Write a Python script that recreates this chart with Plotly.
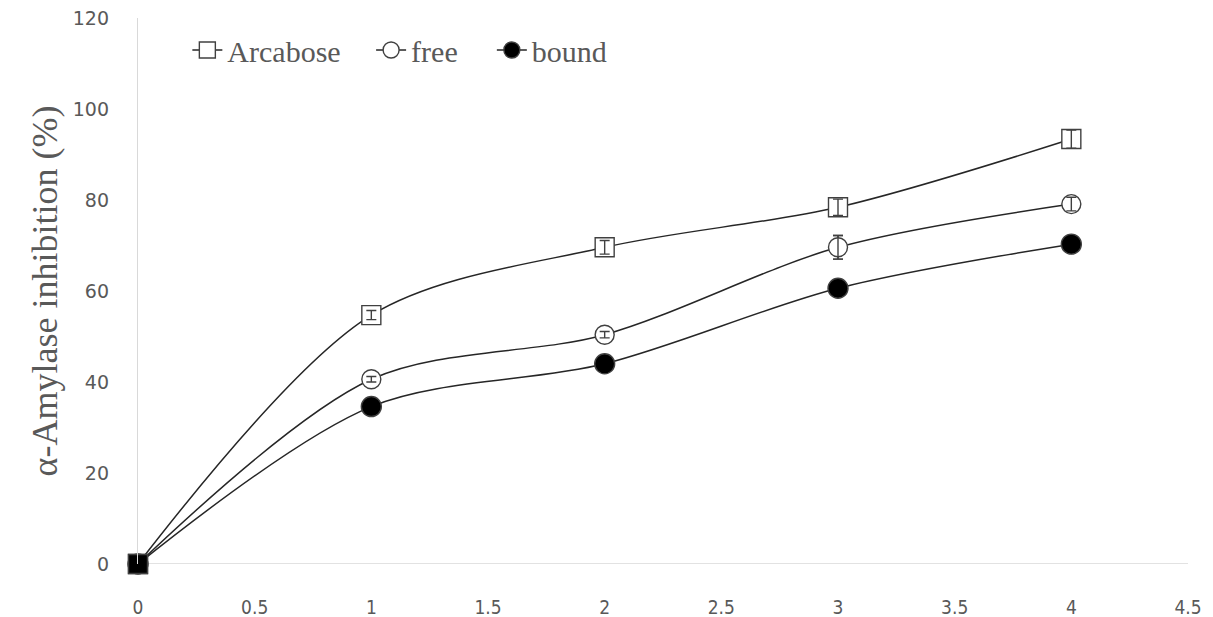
import plotly.graph_objects as go

x_vals = [0, 1, 2, 3, 4]
arcabose = [0, 54.7, 69.6, 78.4, 93.4]
arcabose_err = [0, 1.0, 1.5, 1.8, 2.0]
free = [0, 40.6, 50.4, 69.6, 79.1]
free_err = [0, 0.6, 0.7, 2.6, 1.5]
bound = [0, 34.6, 44.0, 60.6, 70.3]
bound_err = [0, 0.8, 0.8, 1.0, 1.0]

x_ticks = [0, 0.5, 1, 1.5, 2, 2.5, 3, 3.5, 4, 4.5]
x_tick_text = ["0", "0.5", "1", "1.5", "2", "2.5", "3", "3.5", "4", "4.5"]
y_ticks = [0, 20, 40, 60, 80, 100, 120]

fig = go.Figure()

def add(name, y, err, symbol, fill, size, legend):
    fig.add_trace(go.Scatter(
        x=x_vals, y=y, name=name, mode="lines+markers", legend=legend,
        cliponaxis=False,
        line=dict(color="#262626", width=1.5, shape="spline", smoothing=0.9),
        marker=dict(symbol=symbol, size=size, color=fill,
                    line=dict(color="#404040", width=1.4)),
        error_y=dict(type="data", array=err, visible=True, color="#404040",
                     thickness=1.4, width=5),
    ))

def add_err(y, err):
    fig.add_trace(go.Scatter(
        x=x_vals[1:], y=y[1:], mode="markers", showlegend=False, hoverinfo="skip",
        cliponaxis=False,
        marker=dict(size=1, color="rgba(0,0,0,0)"),
        error_y=dict(type="data", array=err[1:], visible=True, color="#404040",
                     thickness=1.4, width=5),
    ))

add("Arcabose", arcabose, arcabose_err, "square", "white", 19, "legend")
add("free", free, free_err, "circle", "white", 19, "legend2")
add("bound", bound, bound_err, "circle", "black", 20, "legend3")
add_err(arcabose, arcabose_err)
add_err(free, free_err)
# origin marker (black square as in the reference)
fig.add_trace(go.Scatter(
    x=x_vals[:1], y=bound[:1], mode="markers", showlegend=False, hoverinfo="skip",
    cliponaxis=False,
    marker=dict(symbol="square", size=19, color="black", line=dict(color="#404040", width=1.4)),
))

leg_font = dict(family="Liberation Serif", size=30, color="#595959")
def leg(xpos):
    return dict(orientation="h", x=xpos, y=0.989, xanchor="left", yanchor="top",
                font=leg_font, bgcolor="rgba(0,0,0,0)")

fig.update_layout(
    width=1213, height=617,
    margin=dict(l=138, r=25, t=18, b=53),
    plot_bgcolor="white", paper_bgcolor="white",
    showlegend=True,
    legend=leg(0.047),
    legend2=leg(0.222),
    legend3=leg(0.337),
    xaxis=dict(range=[0, 4.5], tickvals=x_ticks, ticktext=x_tick_text,
               showgrid=False, zeroline=False, showline=False, automargin=False,
               ticks="", ticklabelstandoff=30,
               tickfont=dict(family="DejaVu Sans Condensed", size=19, color="#595959")),
    yaxis=dict(range=[0, 120], tickvals=y_ticks,
               showgrid=False, zeroline=False, showline=True, automargin=False,
               linecolor="#d9d9d9", linewidth=1.3, ticks="",
               ticklabelstandoff=24,
               tickfont=dict(family="DejaVu Sans", size=19, color="#595959"),
               title=dict(text="α-Amylase inhibition (%)",
                          font=dict(family="Liberation Serif", size=36, color="#595959"),
                          standoff=4)),
)
fig.add_shape(type="line", xref="paper", yref="y", x0=0, x1=1, y0=0, y1=0,
              line=dict(color="#d9d9d9", width=1.3), layer="below")

fig.write_html("out.html", config={"displayModeBar": False},
               post_script="document.body.style.margin='0';")
